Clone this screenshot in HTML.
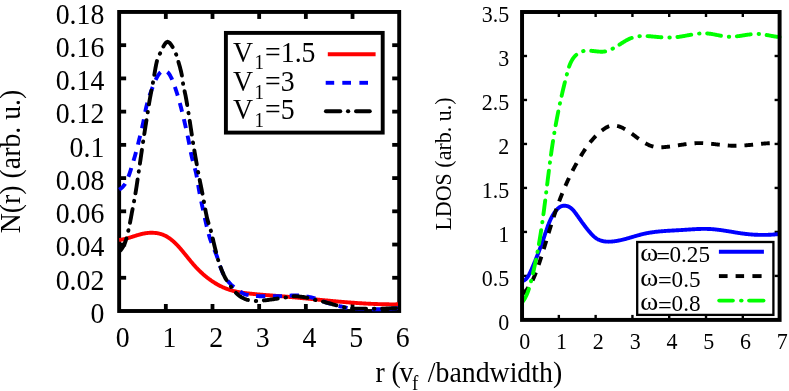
<!DOCTYPE html>
<html lang="en">
<head>
<meta charset="utf-8">
<title>N(r) and LDOS plots</title>
<style>
  html, body { margin: 0; padding: 0; background: #ffffff; }
  body { width: 789px; height: 391px; overflow: hidden; font-family: "Liberation Serif", serif; }
  svg { display: block; will-change: transform; }
  svg text { font-family: "Liberation Serif", serif; fill: #000000; }
</style>
</head>
<body>
<svg width="789" height="391" viewBox="0 0 789 391">
<rect x="0" y="0" width="789" height="391" fill="#ffffff"/>
<g id="left-axes">
<line x1="165.82" y1="311.00" x2="165.82" y2="304.00" stroke="#000" stroke-width="3.80" />
<line x1="165.82" y1="11.95" x2="165.82" y2="18.95" stroke="#000" stroke-width="3.80" />
<line x1="212.50" y1="311.00" x2="212.50" y2="304.00" stroke="#000" stroke-width="3.80" />
<line x1="212.50" y1="11.95" x2="212.50" y2="18.95" stroke="#000" stroke-width="3.80" />
<line x1="259.17" y1="311.00" x2="259.17" y2="304.00" stroke="#000" stroke-width="3.80" />
<line x1="259.17" y1="11.95" x2="259.17" y2="18.95" stroke="#000" stroke-width="3.80" />
<line x1="305.85" y1="311.00" x2="305.85" y2="304.00" stroke="#000" stroke-width="3.80" />
<line x1="305.85" y1="11.95" x2="305.85" y2="18.95" stroke="#000" stroke-width="3.80" />
<line x1="352.52" y1="311.00" x2="352.52" y2="304.00" stroke="#000" stroke-width="3.80" />
<line x1="352.52" y1="11.95" x2="352.52" y2="18.95" stroke="#000" stroke-width="3.80" />
<line x1="119.15" y1="277.77" x2="126.15" y2="277.77" stroke="#000" stroke-width="3.80" />
<line x1="399.20" y1="277.77" x2="392.20" y2="277.77" stroke="#000" stroke-width="3.80" />
<line x1="119.15" y1="244.54" x2="126.15" y2="244.54" stroke="#000" stroke-width="3.80" />
<line x1="399.20" y1="244.54" x2="392.20" y2="244.54" stroke="#000" stroke-width="3.80" />
<line x1="119.15" y1="211.32" x2="126.15" y2="211.32" stroke="#000" stroke-width="3.80" />
<line x1="399.20" y1="211.32" x2="392.20" y2="211.32" stroke="#000" stroke-width="3.80" />
<line x1="119.15" y1="178.09" x2="126.15" y2="178.09" stroke="#000" stroke-width="3.80" />
<line x1="399.20" y1="178.09" x2="392.20" y2="178.09" stroke="#000" stroke-width="3.80" />
<line x1="119.15" y1="144.86" x2="126.15" y2="144.86" stroke="#000" stroke-width="3.80" />
<line x1="399.20" y1="144.86" x2="392.20" y2="144.86" stroke="#000" stroke-width="3.80" />
<line x1="119.15" y1="111.63" x2="126.15" y2="111.63" stroke="#000" stroke-width="3.80" />
<line x1="399.20" y1="111.63" x2="392.20" y2="111.63" stroke="#000" stroke-width="3.80" />
<line x1="119.15" y1="78.41" x2="126.15" y2="78.41" stroke="#000" stroke-width="3.80" />
<line x1="399.20" y1="78.41" x2="392.20" y2="78.41" stroke="#000" stroke-width="3.80" />
<line x1="119.15" y1="45.18" x2="126.15" y2="45.18" stroke="#000" stroke-width="3.80" />
<line x1="399.20" y1="45.18" x2="392.20" y2="45.18" stroke="#000" stroke-width="3.80" />
<rect x="119.15" y="11.95" width="280.05" height="299.05" fill="none" stroke="#000" stroke-width="3.90" stroke-linejoin="miter"/>
</g>
<g id="left-curves" fill="none" stroke-linejoin="round">
<path d="M119.15 239.90L119.63 239.86L120.12 239.81L120.60 239.75L121.09 239.69L121.57 239.61L122.06 239.53L122.54 239.45L123.03 239.36L123.51 239.26L124.00 239.15L124.48 239.04L124.97 238.93L125.45 238.81L125.94 238.69L126.42 238.56L126.91 238.43L127.39 238.29L127.88 238.15L128.37 238.01L128.85 237.86L129.34 237.71L129.83 237.56L130.32 237.41L130.80 237.26L131.29 237.10L131.78 236.94L132.27 236.79L132.76 236.63L133.25 236.47L133.74 236.31L134.23 236.15L134.72 235.99L135.21 235.84L135.71 235.68L136.20 235.53L136.69 235.37L137.19 235.22L137.68 235.07L138.18 234.93L138.67 234.78L139.17 234.64L139.66 234.51L140.16 234.37L140.66 234.24L141.16 234.12L141.66 234.00L142.16 233.88L142.66 233.77L143.16 233.67L143.66 233.57L144.16 233.47L144.67 233.38L145.17 233.30L145.67 233.22L146.18 233.15L146.68 233.09L147.18 233.03L147.69 232.97L148.19 232.93L148.69 232.89L149.20 232.85L149.70 232.82L150.20 232.80L150.70 232.78L151.20 232.78L151.70 232.77L152.20 232.78L152.70 232.79L153.20 232.80L153.69 232.83L154.19 232.86L154.68 232.90L155.17 232.94L155.66 232.99L156.15 233.05L156.63 233.12L157.12 233.19L157.60 233.28L158.08 233.36L158.56 233.46L159.03 233.56L159.51 233.68L159.98 233.79L160.45 233.92L160.91 234.06L161.38 234.20L161.84 234.35L162.30 234.51L162.75 234.67L163.20 234.85L163.65 235.03L164.10 235.22L164.54 235.42L164.98 235.63L165.41 235.85L165.85 236.07L166.28 236.30L166.70 236.54L167.13 236.78L167.55 237.03L167.96 237.29L168.38 237.56L168.79 237.83L169.20 238.11L169.61 238.40L170.01 238.69L170.41 238.98L170.81 239.29L171.20 239.59L171.60 239.91L171.99 240.22L172.37 240.55L172.76 240.88L173.14 241.21L173.52 241.55L173.90 241.89L174.28 242.23L174.65 242.58L175.02 242.94L175.39 243.30L175.76 243.66L176.12 244.02L176.48 244.39L176.84 244.76L177.20 245.13L177.56 245.51L177.91 245.89L178.26 246.27L178.61 246.65L178.96 247.04L179.31 247.42L179.65 247.81L180.00 248.20L180.34 248.59L180.68 248.99L181.01 249.38L181.35 249.78L181.69 250.17L182.02 250.57L182.35 250.96L182.68 251.36L183.01 251.75L183.34 252.15L183.66 252.55L183.99 252.94L184.31 253.34L184.64 253.73L184.96 254.13L185.28 254.52L185.60 254.92L185.92 255.31L186.24 255.71L186.56 256.10L186.88 256.50L187.19 256.89L187.51 257.28L187.83 257.67L188.15 258.06L188.46 258.46L188.78 258.85L189.10 259.24L189.42 259.62L189.74 260.01L190.05 260.40L190.37 260.79L190.69 261.17L191.01 261.56L191.34 261.94L191.66 262.33L191.98 262.71L192.31 263.09L192.63 263.47L192.96 263.85L193.28 264.23L193.61 264.60L193.94 264.98L194.28 265.36L194.61 265.73L194.95 266.10L195.28 266.47L195.62 266.84L195.96 267.21L196.30 267.58L196.65 267.94L197.00 268.31L197.34 268.67L197.69 269.03L198.05 269.39L198.40 269.75L198.76 270.10L199.11 270.46L199.47 270.81L199.84 271.16L200.20 271.51L200.56 271.86L200.93 272.21L201.30 272.55L201.67 272.89L202.04 273.23L202.42 273.57L202.79 273.91L203.17 274.24L203.55 274.58L203.93 274.91L204.32 275.24L204.70 275.56L205.09 275.89L205.48 276.21L205.87 276.53L206.26 276.85L206.66 277.16L207.05 277.48L207.45 277.79L207.85 278.10L208.25 278.40L208.65 278.71L209.06 279.01L209.46 279.31L209.87 279.61L210.28 279.90L210.69 280.19L211.10 280.48L211.52 280.77L211.93 281.05L212.35 281.33L212.77 281.61L213.19 281.89L213.61 282.16L214.04 282.43L214.46 282.70L214.89 282.96L215.32 283.23L215.75 283.49L216.18 283.74L216.62 283.99L217.05 284.25L217.49 284.49L217.93 284.74L218.37 284.98L218.81 285.22L219.25 285.45L219.70 285.68L220.14 285.91L220.59 286.14L221.04 286.36L221.49 286.58L221.95 286.79L222.40 287.01L222.85 287.21L223.31 287.42L223.77 287.62L224.23 287.82L224.69 288.02L225.15 288.21L225.62 288.40L226.08 288.58L226.55 288.76L227.02 288.94L227.49 289.11L227.96 289.28L228.43 289.45L228.91 289.61L229.38 289.77L229.86 289.92L230.34 290.07L230.82 290.22L231.30 290.36L231.78 290.50L232.26 290.64L232.75 290.77L233.23 290.90L233.72 291.02L234.21 291.14L234.70 291.26L235.19 291.37L235.68 291.48L236.18 291.59L236.67 291.69L237.17 291.80L237.66 291.89L238.16 291.99L238.65 292.08L239.15 292.17L239.65 292.26L240.15 292.34L240.65 292.43L241.15 292.51L241.65 292.58L242.16 292.66L242.66 292.73L243.16 292.81L243.66 292.88L244.17 292.94L244.67 293.01L245.18 293.08L245.68 293.14L246.19 293.20L246.69 293.26L247.19 293.32L247.70 293.38L248.20 293.44L248.71 293.49L249.21 293.55L249.72 293.60L250.22 293.66L250.73 293.71L251.23 293.76L251.74 293.81L252.24 293.87L252.75 293.92L253.25 293.97L253.75 294.02L254.26 294.06L254.76 294.11L255.27 294.16L255.77 294.21L256.27 294.25L256.78 294.30L257.28 294.34L257.78 294.39L258.29 294.43L258.79 294.48L259.29 294.52L259.80 294.56L260.30 294.61L260.80 294.65L261.31 294.69L261.81 294.73L262.31 294.77L262.81 294.81L263.32 294.86L263.82 294.90L264.32 294.94L264.82 294.98L265.33 295.02L265.83 295.05L266.33 295.09L266.83 295.13L267.34 295.17L267.84 295.21L268.34 295.25L268.84 295.29L269.34 295.32L269.85 295.36L270.35 295.40L270.85 295.44L271.35 295.48L271.85 295.51L272.36 295.55L272.86 295.59L273.36 295.63L273.86 295.67L274.36 295.70L274.86 295.74L275.37 295.78L275.87 295.82L276.37 295.86L276.87 295.90L277.37 295.94L277.88 295.97L278.38 296.01L278.88 296.05L279.38 296.09L279.88 296.13L280.38 296.17L280.88 296.21L281.39 296.25L281.89 296.29L282.39 296.34L282.89 296.38L283.39 296.42L283.89 296.46L284.40 296.50L284.90 296.54L285.40 296.59L285.90 296.63L286.40 296.67L286.90 296.72L287.41 296.76L287.91 296.80L288.41 296.85L288.91 296.89L289.41 296.94L289.91 296.98L290.42 297.02L290.92 297.07L291.42 297.11L291.92 297.16L292.42 297.20L292.92 297.25L293.42 297.30L293.93 297.34L294.43 297.39L294.93 297.43L295.43 297.48L295.93 297.53L296.43 297.57L296.94 297.62L297.44 297.67L297.94 297.71L298.44 297.76L298.94 297.81L299.44 297.85L299.95 297.90L300.45 297.95L300.95 298.00L301.45 298.04L301.95 298.09L302.45 298.14L302.96 298.19L303.46 298.24L303.96 298.28L304.46 298.33L304.96 298.38L305.46 298.43L305.97 298.48L306.47 298.53L306.97 298.57L307.47 298.62L307.97 298.67L308.47 298.72L308.98 298.77L309.48 298.82L309.98 298.87L310.48 298.92L310.98 298.96L311.48 299.01L311.99 299.06L312.49 299.11L312.99 299.16L313.49 299.21L313.99 299.26L314.50 299.31L315.00 299.36L315.50 299.40L316.00 299.45L316.50 299.50L317.00 299.55L317.51 299.60L318.01 299.65L318.51 299.70L319.01 299.75L319.51 299.79L320.02 299.84L320.52 299.89L321.02 299.94L321.52 299.99L322.02 300.04L322.53 300.09L323.03 300.13L323.53 300.18L324.03 300.23L324.53 300.28L325.03 300.33L325.54 300.37L326.04 300.42L326.54 300.47L327.04 300.52L327.54 300.56L328.05 300.61L328.55 300.66L329.05 300.71L329.55 300.75L330.06 300.80L330.56 300.85L331.06 300.89L331.56 300.94L332.06 300.99L332.57 301.03L333.07 301.08L333.57 301.12L334.07 301.17L334.57 301.22L335.08 301.26L335.58 301.31L336.08 301.35L336.58 301.40L337.09 301.44L337.59 301.48L338.09 301.53L338.59 301.57L339.09 301.62L339.60 301.66L340.10 301.70L340.60 301.75L341.10 301.79L341.61 301.83L342.11 301.88L342.61 301.92L343.11 301.96L343.62 302.00L344.12 302.04L344.62 302.09L345.12 302.13L345.63 302.17L346.13 302.21L346.63 302.25L347.13 302.29L347.64 302.33L348.14 302.37L348.64 302.41L349.14 302.45L349.65 302.49L350.15 302.52L350.65 302.56L351.16 302.60L351.66 302.64L352.16 302.68L352.66 302.71L353.17 302.75L353.67 302.79L354.17 302.82L354.67 302.86L355.18 302.89L355.68 302.93L356.18 302.96L356.69 303.00L357.19 303.03L357.69 303.07L358.19 303.10L358.70 303.13L359.20 303.16L359.70 303.20L360.21 303.23L360.71 303.26L361.21 303.29L361.72 303.32L362.22 303.35L362.72 303.38L363.23 303.41L363.73 303.44L364.23 303.47L364.73 303.50L365.24 303.53L365.74 303.56L366.24 303.58L366.75 303.61L367.25 303.64L367.75 303.66L368.26 303.69L368.76 303.71L369.26 303.74L369.77 303.76L370.27 303.79L370.78 303.81L371.28 303.83L371.78 303.86L372.29 303.88L372.79 303.90L373.29 303.92L373.80 303.94L374.30 303.96L374.80 303.98L375.31 304.00L375.81 304.02L376.31 304.04L376.82 304.05L377.32 304.07L377.83 304.09L378.33 304.10L378.83 304.12L379.34 304.14L379.84 304.15L380.35 304.16L380.85 304.18L381.35 304.19L381.86 304.20L382.36 304.22L382.87 304.23L383.37 304.24L383.87 304.25L384.38 304.26L384.88 304.27L385.39 304.28L385.89 304.28L386.39 304.29L386.90 304.30L387.40 304.31L387.91 304.31L388.41 304.32L388.92 304.32L389.42 304.33L389.93 304.33L390.43 304.33L390.93 304.33L391.44 304.34L391.94 304.34L392.45 304.34L392.95 304.34L393.46 304.34L393.96 304.33L394.47 304.33L394.97 304.33L395.48 304.33L395.98 304.32L396.49 304.32L396.99 304.31L397.50 304.31L398.00 304.30" stroke="#ff0000" stroke-width="3.9"/>
<path d="M119.15 189.60L119.92 189.13L120.67 188.62L121.38 188.09L122.05 187.52L122.68 186.92L123.27 186.29L123.84 185.61L124.38 184.89L124.89 184.15L125.36 183.40L125.80 182.64L126.21 181.86L126.59 181.06L126.95 180.25L127.30 179.43L127.63 178.61L127.97 177.79L128.29 176.96L128.61 176.14L128.92 175.31L129.22 174.47L129.51 173.64L129.80 172.80L130.08 171.96L130.35 171.12L130.62 170.28L130.88 169.43L131.13 168.58L131.38 167.73L131.63 166.88L131.88 166.03L132.13 165.18L132.39 164.34L132.65 163.49L132.91 162.64L133.17 161.80L133.44 160.95L133.70 160.11L133.96 159.26L134.22 158.42L134.47 157.57L134.72 156.72L134.97 155.87L135.20 155.02L135.44 154.16L135.67 153.31L135.90 152.45L136.13 151.60L136.36 150.74L136.58 149.89L136.81 149.03L137.03 148.17L137.25 147.32L137.46 146.46L137.68 145.60L137.90 144.74L138.11 143.88L138.33 143.02L138.54 142.16L138.75 141.30L138.97 140.44L139.18 139.59L139.39 138.73L139.60 137.87L139.82 137.01L140.03 136.15L140.24 135.29L140.45 134.43L140.66 133.57L140.87 132.71L141.08 131.85L141.28 130.99L141.49 130.13L141.69 129.26L141.89 128.40L142.10 127.54L142.29 126.68L142.49 125.81L142.68 124.95L142.88 124.09L143.07 123.22L143.25 122.36L143.43 121.49L143.61 120.62L143.78 119.75L143.94 118.88L144.10 118.01L144.26 117.14L144.42 116.27L144.58 115.39L144.74 114.52L144.90 113.65L145.06 112.78L145.23 111.91L145.40 111.04L145.57 110.17L145.75 109.31L145.94 108.45L146.14 107.59L146.34 106.73L146.55 105.87L146.77 105.02L147.00 104.16L147.23 103.31L147.46 102.45L147.71 101.60L147.95 100.75L148.21 99.90L148.47 99.05L148.73 98.20L149.00 97.35L149.27 96.51L149.55 95.66L149.83 94.82L150.12 93.98L150.41 93.14L150.71 92.31L151.01 91.48L151.31 90.64L151.61 89.82L151.92 88.99L152.24 88.17L152.55 87.34L152.87 86.51L153.19 85.68L153.51 84.84L153.84 84.00L154.18 83.17L154.52 82.34L154.88 81.51L155.24 80.68L155.61 79.87L156.00 79.07L156.40 78.28L156.81 77.50L157.24 76.74L157.69 76.00L158.15 75.27L158.63 74.56L159.17 73.84L159.75 73.12L160.38 72.46L161.05 71.89L161.76 71.45L162.57 71.04L163.44 70.69L164.29 70.51L165.11 70.60L165.93 70.96L166.72 71.50L167.44 72.07L168.06 72.63L168.64 73.30L169.18 74.03L169.68 74.80L170.13 75.57L170.54 76.33L170.95 77.10L171.33 77.88L171.71 78.67L172.07 79.47L172.43 80.28L172.77 81.10L173.10 81.92L173.42 82.76L173.73 83.59L174.04 84.43L174.34 85.28L174.64 86.12L174.93 86.97L175.21 87.82L175.50 88.67L175.78 89.51L176.05 90.36L176.33 91.20L176.61 92.03L176.88 92.87L177.15 93.72L177.41 94.56L177.67 95.41L177.92 96.25L178.17 97.10L178.42 97.95L178.66 98.81L178.91 99.66L179.14 100.51L179.38 101.37L179.61 102.22L179.84 103.08L180.07 103.94L180.29 104.79L180.52 105.65L180.74 106.51L180.96 107.36L181.19 108.22L181.41 109.08L181.62 109.93L181.84 110.79L182.06 111.65L182.27 112.51L182.48 113.37L182.69 114.23L182.90 115.09L183.11 115.95L183.32 116.81L183.52 117.67L183.73 118.53L183.93 119.39L184.14 120.25L184.34 121.12L184.54 121.98L184.74 122.84L184.93 123.71L185.13 124.57L185.33 125.43L185.52 126.30L185.71 127.16L185.91 128.02L186.10 128.89L186.29 129.75L186.48 130.62L186.67 131.48L186.86 132.35L187.05 133.21L187.23 134.08L187.42 134.94L187.60 135.81L187.79 136.68L187.97 137.54L188.15 138.41L188.33 139.27L188.50 140.14L188.67 141.01L188.84 141.88L189.01 142.75L189.17 143.62L189.34 144.49L189.50 145.36L189.67 146.23L189.83 147.10L189.99 147.97L190.16 148.84L190.32 149.71L190.49 150.58L190.66 151.45L190.84 152.32L191.01 153.18L191.19 154.05L191.37 154.92L191.56 155.78L191.75 156.64L191.95 157.50L192.16 158.36L192.38 159.22L192.60 160.08L192.83 160.94L193.06 161.79L193.29 162.65L193.52 163.50L193.76 164.36L194.00 165.21L194.24 166.06L194.47 166.92L194.71 167.77L194.94 168.63L195.16 169.48L195.38 170.34L195.60 171.20L195.80 172.06L196.00 172.92L196.19 173.78L196.37 174.65L196.54 175.51L196.71 176.38L196.87 177.25L197.03 178.12L197.18 178.99L197.33 179.86L197.48 180.74L197.62 181.61L197.77 182.49L197.91 183.36L198.05 184.24L198.19 185.11L198.33 185.99L198.47 186.86L198.62 187.73L198.76 188.61L198.91 189.48L199.06 190.35L199.22 191.22L199.38 192.09L199.54 192.96L199.71 193.83L199.88 194.70L200.05 195.57L200.22 196.44L200.40 197.31L200.57 198.17L200.75 199.04L200.93 199.91L201.11 200.78L201.29 201.64L201.47 202.51L201.65 203.38L201.84 204.24L202.02 205.11L202.21 205.97L202.40 206.84L202.58 207.70L202.77 208.57L202.96 209.43L203.15 210.30L203.35 211.16L203.54 212.02L203.72 212.89L203.91 213.76L204.10 214.62L204.29 215.49L204.48 216.36L204.66 217.22L204.85 218.09L205.04 218.96L205.23 219.83L205.42 220.69L205.61 221.56L205.81 222.43L206.00 223.29L206.20 224.16L206.40 225.02L206.60 225.89L206.80 226.75L207.01 227.61L207.22 228.47L207.43 229.33L207.64 230.19L207.86 231.04L208.09 231.90L208.31 232.75L208.54 233.60L208.78 234.45L209.02 235.30L209.26 236.15L209.51 236.99L209.76 237.83L210.03 238.67L210.31 239.51L210.60 240.34L210.89 241.17L211.20 242.00L211.51 242.83L211.83 243.65L212.16 244.48L212.49 245.30L212.83 246.12L213.16 246.94L213.50 247.76L213.84 248.58L214.19 249.40L214.53 250.22L214.86 251.04L215.20 251.86L215.53 252.69L215.86 253.51L216.18 254.34L216.50 255.16L216.81 255.99L217.11 256.83L217.40 257.67L217.68 258.51L217.96 259.36L218.24 260.22L218.51 261.07L218.78 261.92L219.05 262.78L219.32 263.63L219.59 264.49L219.86 265.34L220.14 266.18L220.43 267.03L220.72 267.86L221.02 268.70L221.33 269.52L221.65 270.34L221.98 271.14L222.32 271.94L222.68 272.73L223.05 273.51L223.45 274.27L223.86 275.04L224.30 275.81L224.76 276.57L225.24 277.33L225.74 278.08L226.25 278.82L226.78 279.56L227.32 280.28L227.87 280.99L228.44 281.68L229.02 282.36L229.60 283.03L230.19 283.67L230.79 284.29L231.41 284.89L232.05 285.48L232.72 286.05L233.41 286.60L234.12 287.14L234.84 287.68L235.57 288.20L236.31 288.71L237.05 289.22L237.79 289.72L238.52 290.21L239.25 290.73L239.98 291.26L240.71 291.81L241.45 292.34L242.20 292.86L242.96 293.33L243.73 293.76L244.52 294.11L245.32 294.38L246.14 294.58L246.99 294.76L247.85 294.92L248.73 295.07L249.62 295.20L250.51 295.32L251.41 295.42L252.30 295.52L253.18 295.62L254.06 295.72L254.94 295.82L255.82 295.91L256.70 296.00L257.59 296.09L258.47 296.16L259.35 296.22L260.24 296.27L261.12 296.29L262.01 296.30L262.89 296.30L263.77 296.30L264.66 296.30L265.54 296.29L266.43 296.29L267.31 296.29L268.20 296.28L269.08 296.28L269.97 296.27L270.86 296.27L271.74 296.26L272.63 296.25L273.51 296.25L274.40 296.24L275.28 296.23L276.17 296.22L277.05 296.21L277.94 296.21L278.82 296.20L279.71 296.18L280.59 296.15L281.48 296.12L282.36 296.08L283.25 296.04L284.14 295.99L285.02 295.93L285.91 295.88L286.79 295.82L287.68 295.77L288.56 295.71L289.45 295.66L290.33 295.60L291.22 295.56L292.10 295.51L292.98 295.47L293.86 295.44L294.75 295.42L295.63 295.41L296.51 295.40L297.39 295.41L298.27 295.44L299.16 295.49L300.04 295.56L300.93 295.65L301.81 295.75L302.69 295.86L303.58 295.98L304.46 296.12L305.34 296.26L306.22 296.42L307.09 296.58L307.97 296.74L308.83 296.91L309.70 297.08L310.56 297.25L311.42 297.42L312.27 297.62L313.12 297.85L313.96 298.10L314.79 298.38L315.63 298.68L316.46 299.00L317.29 299.32L318.12 299.65L318.95 299.99L319.78 300.31L320.61 300.63L321.44 300.94L322.28 301.23L323.12 301.50L323.97 301.76L324.81 302.02L325.66 302.28L326.51 302.54L327.36 302.79L328.21 303.04L329.06 303.28L329.91 303.52L330.76 303.77L331.61 304.00L332.47 304.24L333.32 304.47L334.18 304.70L335.03 304.93L335.89 305.16L336.74 305.39L337.60 305.61L338.46 305.84L339.31 306.06L340.17 306.29L341.03 306.51L341.89 306.72L342.75 306.92L343.61 307.12L344.48 307.30L345.35 307.47L346.21 307.64L347.08 307.81L347.96 307.99L348.83 308.16L349.71 308.31L350.58 308.46L351.46 308.58L352.34 308.69L353.22 308.76L354.09 308.80L354.97 308.83L355.85 308.86L356.74 308.89L357.62 308.91L358.50 308.94L359.38 308.96L360.27 308.98L361.15 309.00L362.04 309.02L362.92 309.04L363.81 309.06L364.69 309.07L365.58 309.09L366.47 309.10L367.35 309.12L368.24 309.13L369.13 309.14L370.02 309.15L370.90 309.16L371.79 309.17L372.68 309.18L373.56 309.18L374.45 309.19L375.34 309.19L376.22 309.20L377.11 309.20L377.99 309.20L378.88 309.20L379.76 309.20L380.65 309.19L381.53 309.17L382.41 309.15L383.30 309.12L384.18 309.09L385.07 309.05L385.95 309.01L386.83 308.97L387.72 308.92L388.60 308.86L389.48 308.80L390.37 308.74L391.25 308.68L392.13 308.61L393.02 308.54L393.90 308.47L394.78 308.40L395.67 308.32L396.55 308.24L397.43 308.16L398.32 308.08L399.20 308.00" stroke="#0000ff" stroke-width="3.9" stroke-dasharray="9.2 7.6" stroke-dashoffset="0.65"/>
<path d="M119.15 251.80L119.93 251.04L120.65 250.24L121.30 249.39L121.93 248.50L122.54 247.59L123.12 246.66L123.65 245.70L124.14 244.74L124.57 243.77L124.96 242.78L125.33 241.79L125.67 240.77L126.00 239.75L126.30 238.71L126.60 237.66L126.88 236.61L127.15 235.55L127.41 234.48L127.67 233.42L127.92 232.36L128.17 231.30L128.41 230.25L128.65 229.20L128.89 228.15L129.12 227.09L129.34 226.03L129.56 224.98L129.78 223.92L129.98 222.85L130.19 221.79L130.39 220.73L130.59 219.67L130.79 218.60L130.99 217.54L131.18 216.47L131.38 215.41L131.58 214.35L131.77 213.28L131.97 212.22L132.17 211.16L132.37 210.09L132.58 209.03L132.78 207.97L132.98 206.91L133.18 205.84L133.38 204.78L133.59 203.72L133.79 202.66L133.99 201.59L134.18 200.53L134.38 199.47L134.57 198.40L134.76 197.34L134.95 196.28L135.14 195.21L135.32 194.15L135.50 193.08L135.68 192.01L135.85 190.95L136.03 189.88L136.19 188.81L136.36 187.75L136.52 186.68L136.69 185.61L136.85 184.54L137.01 183.47L137.17 182.40L137.32 181.33L137.48 180.26L137.63 179.19L137.79 178.12L137.95 177.05L138.10 175.98L138.26 174.91L138.41 173.84L138.57 172.77L138.73 171.70L138.88 170.63L139.04 169.56L139.20 168.49L139.36 167.42L139.51 166.35L139.67 165.28L139.82 164.21L139.98 163.14L140.13 162.07L140.29 161.00L140.44 159.93L140.60 158.86L140.75 157.79L140.91 156.72L141.06 155.65L141.22 154.58L141.37 153.51L141.53 152.44L141.68 151.37L141.84 150.30L142.00 149.23L142.15 148.16L142.31 147.09L142.47 146.02L142.63 144.96L142.79 143.89L142.95 142.82L143.11 141.75L143.27 140.68L143.43 139.61L143.60 138.54L143.76 137.47L143.92 136.40L144.09 135.34L144.26 134.27L144.42 133.20L144.59 132.13L144.76 131.06L144.92 130.00L145.09 128.93L145.26 127.86L145.43 126.79L145.59 125.72L145.76 124.66L145.93 123.59L146.10 122.52L146.27 121.45L146.44 120.38L146.61 119.32L146.78 118.25L146.95 117.18L147.11 116.11L147.28 115.04L147.45 113.98L147.62 112.91L147.79 111.84L147.95 110.77L148.12 109.70L148.28 108.64L148.45 107.57L148.61 106.50L148.78 105.43L148.95 104.36L149.12 103.29L149.29 102.23L149.47 101.16L149.66 100.10L149.84 99.03L150.03 97.97L150.23 96.90L150.43 95.84L150.63 94.78L150.83 93.72L151.03 92.66L151.24 91.59L151.44 90.53L151.65 89.47L151.85 88.41L152.05 87.35L152.26 86.28L152.46 85.22L152.65 84.16L152.85 83.10L153.04 82.03L153.22 80.97L153.41 79.90L153.59 78.83L153.77 77.77L153.96 76.70L154.15 75.64L154.34 74.58L154.54 73.51L154.72 72.44L154.91 71.37L155.09 70.30L155.28 69.23L155.47 68.15L155.66 67.08L155.87 66.02L156.08 64.95L156.30 63.89L156.53 62.84L156.78 61.80L157.05 60.76L157.33 59.73L157.65 58.72L158.02 57.70L158.44 56.70L158.90 55.71L159.37 54.73L159.86 53.76L160.36 52.79L160.87 51.73L161.42 50.59L161.98 49.39L162.57 48.19L163.16 47.00L163.77 45.86L164.39 44.79L165.01 43.84L165.64 43.04L166.26 42.41L166.88 41.99L167.49 41.80L168.10 41.88L168.74 42.19L169.41 42.71L170.08 43.41L170.77 44.26L171.45 45.23L172.12 46.29L172.78 47.42L173.42 48.60L174.02 49.78L174.59 50.95L175.12 52.08L175.59 53.13L176.01 54.11L176.39 55.11L176.74 56.13L177.07 57.17L177.38 58.22L177.68 59.27L177.97 60.31L178.28 61.35L178.58 62.39L178.88 63.43L179.18 64.47L179.48 65.51L179.77 66.55L180.05 67.60L180.33 68.65L180.60 69.69L180.86 70.74L181.11 71.80L181.35 72.85L181.57 73.91L181.78 74.96L181.97 76.02L182.14 77.09L182.30 78.16L182.44 79.23L182.58 80.31L182.73 81.38L182.88 82.45L183.05 83.52L183.24 84.58L183.44 85.64L183.65 86.70L183.86 87.76L184.09 88.82L184.31 89.88L184.54 90.93L184.77 91.99L185.00 93.05L185.23 94.11L185.45 95.17L185.66 96.23L185.87 97.29L186.06 98.35L186.25 99.41L186.44 100.48L186.63 101.54L186.81 102.61L186.99 103.67L187.16 104.74L187.34 105.81L187.51 106.88L187.69 107.94L187.86 109.01L188.03 110.08L188.20 111.15L188.37 112.21L188.54 113.28L188.71 114.35L188.88 115.42L189.04 116.48L189.21 117.55L189.37 118.62L189.54 119.69L189.70 120.76L189.86 121.83L190.02 122.90L190.18 123.97L190.34 125.04L190.50 126.10L190.66 127.17L190.83 128.24L190.99 129.31L191.15 130.38L191.31 131.45L191.47 132.52L191.63 133.59L191.80 134.66L191.96 135.73L192.12 136.79L192.29 137.86L192.46 138.93L192.63 140.00L192.80 141.07L192.97 142.13L193.15 143.20L193.32 144.27L193.50 145.33L193.67 146.40L193.85 147.47L194.03 148.53L194.21 149.60L194.39 150.66L194.57 151.73L194.75 152.80L194.93 153.86L195.11 154.93L195.30 155.99L195.48 157.06L195.66 158.12L195.85 159.19L196.04 160.25L196.22 161.32L196.41 162.38L196.60 163.45L196.79 164.51L196.98 165.58L197.17 166.64L197.37 167.70L197.56 168.77L197.76 169.83L197.95 170.89L198.15 171.96L198.35 173.02L198.55 174.08L198.75 175.14L198.96 176.21L199.16 177.27L199.37 178.33L199.58 179.39L199.79 180.45L200.00 181.51L200.22 182.57L200.43 183.63L200.64 184.69L200.86 185.75L201.07 186.81L201.29 187.87L201.50 188.93L201.71 189.99L201.92 191.05L202.13 192.11L202.34 193.17L202.55 194.23L202.76 195.29L202.96 196.35L203.16 197.42L203.35 198.48L203.54 199.55L203.73 200.61L203.92 201.68L204.11 202.75L204.29 203.81L204.48 204.88L204.67 205.95L204.86 207.01L205.05 208.08L205.25 209.14L205.44 210.20L205.65 211.27L205.85 212.33L206.07 213.39L206.28 214.44L206.51 215.50L206.74 216.55L206.98 217.60L207.23 218.65L207.50 219.69L207.79 220.73L208.10 221.77L208.42 222.80L208.74 223.83L209.07 224.87L209.40 225.90L209.73 226.93L210.05 227.96L210.36 229.00L210.66 230.04L210.95 231.08L211.22 232.13L211.49 233.17L211.75 234.22L212.00 235.27L212.26 236.32L212.50 237.38L212.75 238.43L212.99 239.48L213.23 240.54L213.48 241.59L213.72 242.64L213.96 243.70L214.21 244.75L214.46 245.80L214.72 246.85L214.98 247.90L215.24 248.95L215.50 250.00L215.76 251.05L216.02 252.10L216.28 253.15L216.55 254.20L216.82 255.25L217.10 256.29L217.38 257.34L217.67 258.38L217.97 259.41L218.29 260.45L218.61 261.48L218.94 262.51L219.28 263.54L219.64 264.56L220.00 265.58L220.37 266.59L220.75 267.60L221.14 268.61L221.54 269.62L221.95 270.62L222.36 271.63L222.78 272.63L223.22 273.62L223.67 274.61L224.12 275.59L224.60 276.56L225.08 277.52L225.58 278.47L226.10 279.41L226.64 280.34L227.22 281.26L227.81 282.16L228.42 283.06L229.04 283.95L229.67 284.84L230.30 285.72L230.94 286.59L231.57 287.47L232.21 288.36L232.86 289.24L233.52 290.11L234.20 290.96L234.90 291.77L235.64 292.54L236.40 293.27L237.20 294.00L238.02 294.72L238.88 295.43L239.76 296.10L240.65 296.74L241.57 297.33L242.51 297.86L243.45 298.33L244.42 298.75L245.42 299.15L246.45 299.52L247.50 299.85L248.56 300.12L249.62 300.34L250.68 300.50L251.75 300.64L252.82 300.77L253.90 300.88L254.99 300.96L256.07 301.00L257.15 300.99L258.23 300.94L259.30 300.87L260.38 300.77L261.46 300.67L262.54 300.55L263.62 300.44L264.69 300.33L265.76 300.21L266.84 300.09L267.91 299.95L268.98 299.81L270.05 299.67L271.12 299.51L272.20 299.36L273.27 299.21L274.34 299.05L275.41 298.90L276.48 298.74L277.55 298.60L278.62 298.45L279.69 298.30L280.76 298.14L281.83 297.99L282.90 297.83L283.97 297.68L285.04 297.52L286.11 297.35L287.17 297.15L288.24 296.93L289.30 296.70L290.37 296.49L291.44 296.32L292.51 296.22L293.58 296.20L294.66 296.23L295.74 296.27L296.82 296.34L297.90 296.42L298.98 296.51L300.06 296.60L301.13 296.72L302.20 296.87L303.27 297.04L304.33 297.24L305.40 297.45L306.46 297.67L307.52 297.90L308.57 298.13L309.62 298.39L310.66 298.67L311.70 298.97L312.74 299.28L313.78 299.58L314.82 299.86L315.87 300.11L316.93 300.35L317.99 300.57L319.05 300.79L320.10 301.01L321.16 301.23L322.22 301.46L323.27 301.71L324.32 301.97L325.36 302.24L326.41 302.52L327.45 302.81L328.49 303.10L329.53 303.39L330.57 303.69L331.61 303.98L332.66 304.28L333.70 304.57L334.74 304.86L335.78 305.14L336.83 305.41L337.88 305.68L338.92 305.96L339.97 306.24L341.02 306.52L342.07 306.78L343.12 307.02L344.18 307.25L345.24 307.44L346.30 307.63L347.37 307.82L348.44 308.01L349.51 308.19L350.58 308.34L351.66 308.47L352.73 308.55L353.81 308.60L354.89 308.61L355.96 308.62L357.04 308.63L358.12 308.63L359.20 308.64L360.28 308.65L361.36 308.65L362.44 308.66L363.52 308.67L364.60 308.67L365.69 308.68L366.77 308.68L367.85 308.68L368.93 308.69L370.02 308.69L371.10 308.69L372.18 308.69L373.27 308.70L374.35 308.70L375.43 308.70L376.51 308.70L377.59 308.70L378.67 308.70L379.76 308.70L380.84 308.69L381.92 308.67L383.00 308.65L384.08 308.63L385.16 308.60L386.24 308.56L387.32 308.52L388.40 308.48L389.48 308.43L390.56 308.38L391.64 308.32L392.72 308.27L393.80 308.21L394.88 308.15L395.96 308.09L397.04 308.03L398.12 307.96L399.20 307.90" stroke="#000" stroke-width="3.9" stroke-dasharray="14 7.9 0.5 7.6" stroke-dashoffset="28.59" stroke-linecap="round"/>
</g>
<g id="left-labels">
<text transform="translate(104.30 322.85) scale(1.000 1.055)" font-size="27.80" text-anchor="end" >0</text>
<text transform="translate(104.30 289.62) scale(1.000 1.055)" font-size="27.80" text-anchor="end" >0.02</text>
<text transform="translate(104.30 256.39) scale(1.000 1.055)" font-size="27.80" text-anchor="end" >0.04</text>
<text transform="translate(104.30 223.17) scale(1.000 1.055)" font-size="27.80" text-anchor="end" >0.06</text>
<text transform="translate(104.30 189.94) scale(1.000 1.055)" font-size="27.80" text-anchor="end" >0.08</text>
<text transform="translate(104.30 156.71) scale(1.000 1.055)" font-size="27.80" text-anchor="end" >0.1</text>
<text transform="translate(104.30 123.48) scale(1.000 1.055)" font-size="27.80" text-anchor="end" >0.12</text>
<text transform="translate(104.30 90.26) scale(1.000 1.055)" font-size="27.80" text-anchor="end" >0.14</text>
<text transform="translate(104.30 57.03) scale(1.000 1.055)" font-size="27.80" text-anchor="end" >0.16</text>
<text transform="translate(104.30 23.80) scale(1.000 1.055)" font-size="27.80" text-anchor="end" >0.18</text>
<text transform="translate(122.75 347.30) scale(1.000 1.055)" font-size="27.80" text-anchor="middle" >0</text>
<text transform="translate(169.42 347.30) scale(1.000 1.055)" font-size="27.80" text-anchor="middle" >1</text>
<text transform="translate(216.10 347.30) scale(1.000 1.055)" font-size="27.80" text-anchor="middle" >2</text>
<text transform="translate(262.77 347.30) scale(1.000 1.055)" font-size="27.80" text-anchor="middle" >3</text>
<text transform="translate(309.45 347.30) scale(1.000 1.055)" font-size="27.80" text-anchor="middle" >4</text>
<text transform="translate(356.12 347.30) scale(1.000 1.055)" font-size="27.80" text-anchor="middle" >5</text>
<text transform="translate(402.80 347.30) scale(1.000 1.055)" font-size="27.80" text-anchor="middle" >6</text>
<text transform="translate(20.40 233.20) rotate(-90) scale(1.000 1.055)" font-size="27.80" text-anchor="start" >N(r) (arb. u.)</text>
</g>
<g id="left-legend">
<rect x="225.90" y="32.90" width="156.80" height="99.70" fill="none" stroke="#000" stroke-width="3.90" stroke-linejoin="miter"/>
<text transform="translate(233.10 61.60) scale(1.000 1.055)" font-size="27.80" text-anchor="start" >V</text>
<text transform="translate(254.50 69.45) scale(1.000 1.055)" font-size="19.00" text-anchor="start" >1</text>
<text transform="translate(265.10 61.60) scale(1.000 1.055)" font-size="27.80" text-anchor="start" >=1.5</text>
<text transform="translate(233.10 90.80) scale(1.000 1.055)" font-size="27.80" text-anchor="start" >V</text>
<text transform="translate(254.50 98.65) scale(1.000 1.055)" font-size="19.00" text-anchor="start" >1</text>
<text transform="translate(265.10 90.80) scale(1.000 1.055)" font-size="27.80" text-anchor="start" >=3</text>
<text transform="translate(233.10 119.30) scale(1.000 1.055)" font-size="27.80" text-anchor="start" >V</text>
<text transform="translate(254.50 127.15) scale(1.000 1.055)" font-size="19.00" text-anchor="start" >1</text>
<text transform="translate(265.10 119.30) scale(1.000 1.055)" font-size="27.80" text-anchor="start" >=5</text>
<line x1="327.80" y1="54.20" x2="375.60" y2="54.20" stroke="#ff0000" stroke-width="3.90" />
<line x1="325.70" y1="82.80" x2="334.20" y2="82.80" stroke="#0000ff" stroke-width="3.90" />
<line x1="342.30" y1="82.80" x2="351.00" y2="82.80" stroke="#0000ff" stroke-width="3.90" />
<line x1="359.40" y1="82.80" x2="368.00" y2="82.80" stroke="#0000ff" stroke-width="3.90" />
<line x1="325.90" y1="111.30" x2="340.30" y2="111.30" stroke="#000" stroke-width="3.90" stroke-linecap="round"/>
<line x1="347.90" y1="111.30" x2="348.30" y2="111.30" stroke="#000" stroke-width="3.90" stroke-linecap="round"/>
<line x1="356.00" y1="111.30" x2="369.80" y2="111.30" stroke="#000" stroke-width="3.90" stroke-linecap="round"/>
</g>
<text transform="translate(375.40 382.40) scale(1.000 1.055)" font-size="27.80" text-anchor="start" >r (</text>
<text transform="translate(399.60 382.40) scale(1.000 1.055)" font-size="27.80" text-anchor="start" >v</text>
<text transform="translate(412.00 390.30) scale(1.000 1.055)" font-size="19.00" text-anchor="start" >f</text>
<text transform="translate(427.85 382.40) scale(1.000 1.055)" font-size="27.80" text-anchor="start" >/bandwidth)</text>
<g id="right-axes">
<line x1="558.84" y1="319.90" x2="558.84" y2="314.90" stroke="#000" stroke-width="2.40" />
<line x1="558.84" y1="12.00" x2="558.84" y2="17.00" stroke="#000" stroke-width="2.40" />
<line x1="595.64" y1="319.90" x2="595.64" y2="314.90" stroke="#000" stroke-width="2.40" />
<line x1="595.64" y1="12.00" x2="595.64" y2="17.00" stroke="#000" stroke-width="2.40" />
<line x1="632.43" y1="319.90" x2="632.43" y2="314.90" stroke="#000" stroke-width="2.40" />
<line x1="632.43" y1="12.00" x2="632.43" y2="17.00" stroke="#000" stroke-width="2.40" />
<line x1="669.22" y1="319.90" x2="669.22" y2="314.90" stroke="#000" stroke-width="2.40" />
<line x1="669.22" y1="12.00" x2="669.22" y2="17.00" stroke="#000" stroke-width="2.40" />
<line x1="706.01" y1="319.90" x2="706.01" y2="314.90" stroke="#000" stroke-width="2.40" />
<line x1="706.01" y1="12.00" x2="706.01" y2="17.00" stroke="#000" stroke-width="2.40" />
<line x1="742.81" y1="319.90" x2="742.81" y2="314.90" stroke="#000" stroke-width="2.40" />
<line x1="742.81" y1="12.00" x2="742.81" y2="17.00" stroke="#000" stroke-width="2.40" />
<line x1="522.05" y1="275.91" x2="527.05" y2="275.91" stroke="#000" stroke-width="2.40" />
<line x1="779.60" y1="275.91" x2="774.60" y2="275.91" stroke="#000" stroke-width="2.40" />
<line x1="522.05" y1="231.93" x2="527.05" y2="231.93" stroke="#000" stroke-width="2.40" />
<line x1="779.60" y1="231.93" x2="774.60" y2="231.93" stroke="#000" stroke-width="2.40" />
<line x1="522.05" y1="187.94" x2="527.05" y2="187.94" stroke="#000" stroke-width="2.40" />
<line x1="779.60" y1="187.94" x2="774.60" y2="187.94" stroke="#000" stroke-width="2.40" />
<line x1="522.05" y1="143.96" x2="527.05" y2="143.96" stroke="#000" stroke-width="2.40" />
<line x1="779.60" y1="143.96" x2="774.60" y2="143.96" stroke="#000" stroke-width="2.40" />
<line x1="522.05" y1="99.97" x2="527.05" y2="99.97" stroke="#000" stroke-width="2.40" />
<line x1="779.60" y1="99.97" x2="774.60" y2="99.97" stroke="#000" stroke-width="2.40" />
<line x1="522.05" y1="55.99" x2="527.05" y2="55.99" stroke="#000" stroke-width="2.40" />
<line x1="779.60" y1="55.99" x2="774.60" y2="55.99" stroke="#000" stroke-width="2.40" />
</g>
<g id="right-curves" fill="none" stroke-linejoin="round">
<path d="M522.05 281.20L522.60 281.03L523.12 280.83L523.62 280.61L524.09 280.36L524.54 280.09L524.97 279.79L525.38 279.48L525.78 279.14L526.15 278.78L526.51 278.41L526.85 278.02L527.18 277.61L527.49 277.19L527.79 276.76L528.08 276.32L528.36 275.86L528.63 275.40L528.89 274.92L529.14 274.44L529.39 273.96L529.63 273.47L529.87 272.97L530.10 272.48L530.33 271.98L530.56 271.48L530.79 270.99L531.02 270.49L531.24 269.99L531.47 269.50L531.69 269.00L531.91 268.51L532.14 268.01L532.36 267.51L532.57 267.02L532.79 266.52L533.01 266.02L533.22 265.53L533.44 265.03L533.65 264.54L533.86 264.04L534.07 263.54L534.28 263.05L534.49 262.55L534.70 262.05L534.91 261.56L535.11 261.06L535.32 260.56L535.52 260.07L535.72 259.57L535.92 259.07L536.12 258.58L536.32 258.08L536.52 257.58L536.72 257.08L536.92 256.59L537.11 256.09L537.31 255.59L537.50 255.09L537.70 254.60L537.89 254.10L538.08 253.60L538.28 253.10L538.47 252.60L538.66 252.10L538.85 251.60L539.03 251.10L539.22 250.60L539.41 250.10L539.60 249.60L539.78 249.10L539.97 248.60L540.15 248.10L540.34 247.60L540.52 247.10L540.70 246.60L540.88 246.10L541.07 245.60L541.25 245.09L541.43 244.59L541.61 244.09L541.79 243.58L541.97 243.08L542.15 242.58L542.32 242.07L542.50 241.57L542.68 241.06L542.86 240.56L543.03 240.05L543.21 239.55L543.39 239.04L543.56 238.53L543.74 238.03L543.91 237.52L544.09 237.01L544.26 236.50L544.44 235.99L544.61 235.48L544.79 234.97L544.96 234.46L545.13 233.95L545.31 233.44L545.48 232.93L545.65 232.42L545.83 231.91L546.00 231.39L546.17 230.88L546.35 230.37L546.52 229.85L546.70 229.34L546.87 228.83L547.05 228.31L547.23 227.80L547.41 227.29L547.59 226.78L547.77 226.27L547.96 225.76L548.15 225.25L548.34 224.74L548.53 224.23L548.73 223.73L548.92 223.22L549.13 222.72L549.33 222.22L549.54 221.72L549.75 221.22L549.97 220.73L550.19 220.23L550.42 219.74L550.64 219.25L550.88 218.76L551.12 218.28L551.36 217.80L551.61 217.32L551.87 216.84L552.13 216.37L552.39 215.90L552.66 215.43L552.94 214.96L553.23 214.50L553.52 214.04L553.81 213.59L554.12 213.14L554.43 212.69L554.75 212.25L555.08 211.81L555.41 211.37L555.75 210.94L556.10 210.52L556.46 210.09L556.82 209.68L557.20 209.27L557.58 208.88L557.97 208.50L558.38 208.13L558.79 207.78L559.21 207.46L559.63 207.15L560.07 206.87L560.52 206.62L560.98 206.39L561.45 206.20L561.93 206.03L562.41 205.90L562.91 205.80L563.40 205.73L563.91 205.69L564.41 205.68L564.92 205.70L565.43 205.74L565.94 205.81L566.45 205.91L566.95 206.04L567.45 206.19L567.94 206.36L568.43 206.56L568.91 206.79L569.38 207.04L569.84 207.31L570.29 207.60L570.73 207.91L571.16 208.25L571.57 208.60L571.98 208.97L572.38 209.35L572.77 209.75L573.15 210.16L573.52 210.58L573.89 211.01L574.25 211.45L574.60 211.90L574.95 212.35L575.29 212.81L575.63 213.26L575.97 213.72L576.30 214.18L576.63 214.64L576.95 215.09L577.27 215.54L577.59 215.99L577.91 216.44L578.23 216.88L578.54 217.33L578.85 217.77L579.16 218.20L579.47 218.64L579.78 219.08L580.09 219.51L580.40 219.94L580.70 220.37L581.01 220.80L581.31 221.23L581.62 221.65L581.92 222.08L582.23 222.50L582.53 222.93L582.84 223.35L583.15 223.77L583.46 224.19L583.77 224.61L584.08 225.03L584.39 225.45L584.71 225.87L585.02 226.28L585.34 226.70L585.66 227.12L585.98 227.54L586.31 227.95L586.64 228.37L586.97 228.79L587.30 229.21L587.64 229.62L587.98 230.04L588.33 230.46L588.68 230.88L589.03 231.30L589.39 231.72L589.75 232.14L590.12 232.56L590.49 232.99L590.86 233.41L591.24 233.83L591.63 234.24L592.02 234.66L592.42 235.06L592.82 235.46L593.22 235.86L593.63 236.24L594.05 236.62L594.47 236.98L594.90 237.33L595.33 237.67L595.77 238.00L596.22 238.31L596.67 238.61L597.12 238.89L597.58 239.15L598.05 239.40L598.52 239.63L599.00 239.85L599.48 240.06L599.96 240.25L600.45 240.43L600.95 240.59L601.45 240.74L601.95 240.88L602.45 241.01L602.96 241.12L603.47 241.22L603.99 241.32L604.50 241.40L605.02 241.47L605.55 241.52L606.07 241.57L606.60 241.61L607.13 241.64L607.66 241.66L608.19 241.67L608.72 241.68L609.26 241.67L609.79 241.66L610.33 241.64L610.86 241.61L611.40 241.58L611.94 241.54L612.47 241.49L613.01 241.43L613.55 241.38L614.08 241.31L614.62 241.24L615.15 241.17L615.68 241.09L616.22 241.00L616.75 240.92L617.28 240.83L617.81 240.73L618.34 240.63L618.87 240.53L619.39 240.42L619.92 240.31L620.45 240.19L620.97 240.08L621.50 239.96L622.02 239.83L622.55 239.71L623.07 239.58L623.59 239.45L624.12 239.31L624.64 239.18L625.16 239.04L625.68 238.90L626.20 238.76L626.72 238.61L627.24 238.47L627.76 238.32L628.28 238.17L628.80 238.02L629.32 237.87L629.84 237.72L630.36 237.57L630.87 237.42L631.39 237.27L631.91 237.11L632.43 236.96L632.95 236.81L633.46 236.66L633.98 236.50L634.50 236.35L635.02 236.20L635.54 236.05L636.05 235.90L636.57 235.75L637.09 235.60L637.61 235.45L638.13 235.31L638.65 235.17L639.17 235.02L639.69 234.88L640.20 234.74L640.72 234.61L641.25 234.47L641.77 234.34L642.29 234.21L642.81 234.09L643.33 233.96L643.85 233.84L644.38 233.72L644.90 233.61L645.42 233.50L645.95 233.39L646.47 233.28L647.00 233.18L647.52 233.08L648.05 232.98L648.57 232.89L649.10 232.79L649.63 232.70L650.16 232.62L650.68 232.53L651.21 232.45L651.74 232.37L652.27 232.29L652.80 232.22L653.33 232.14L653.86 232.07L654.39 232.01L654.92 231.94L655.45 231.87L655.99 231.81L656.52 231.75L657.05 231.69L657.58 231.63L658.12 231.58L658.65 231.52L659.18 231.47L659.72 231.42L660.25 231.37L660.78 231.32L661.32 231.28L661.85 231.23L662.39 231.19L662.92 231.15L663.46 231.11L664.00 231.07L664.53 231.03L665.07 230.99L665.60 230.95L666.14 230.92L666.68 230.88L667.21 230.85L667.75 230.81L668.29 230.78L668.82 230.75L669.36 230.71L669.90 230.68L670.44 230.65L670.97 230.62L671.51 230.59L672.05 230.56L672.59 230.53L673.13 230.50L673.66 230.47L674.20 230.44L674.74 230.41L675.28 230.38L675.82 230.35L676.36 230.32L676.90 230.30L677.43 230.27L677.97 230.24L678.51 230.20L679.05 230.17L679.59 230.14L680.13 230.11L680.66 230.08L681.20 230.04L681.74 230.01L682.28 229.98L682.82 229.94L683.36 229.91L683.89 229.87L684.43 229.83L684.97 229.80L685.51 229.76L686.05 229.72L686.59 229.69L687.12 229.65L687.66 229.62L688.20 229.58L688.74 229.54L689.27 229.51L689.81 229.47L690.35 229.44L690.89 229.40L691.42 229.37L691.96 229.33L692.50 229.30L693.04 229.27L693.57 229.24L694.11 229.21L694.65 229.18L695.18 229.15L695.72 229.12L696.26 229.10L696.79 229.07L697.33 229.05L697.87 229.03L698.40 229.00L698.94 228.99L699.48 228.97L700.01 228.95L700.55 228.94L701.08 228.92L701.62 228.91L702.16 228.90L702.69 228.90L703.23 228.89L703.76 228.89L704.30 228.89L704.83 228.89L705.37 228.89L705.90 228.90L706.44 228.90L706.97 228.91L707.51 228.93L708.04 228.94L708.58 228.96L709.11 228.98L709.64 229.01L710.18 229.03L710.71 229.06L711.25 229.09L711.78 229.13L712.31 229.17L712.85 229.21L713.38 229.25L713.91 229.30L714.44 229.35L714.98 229.40L715.51 229.45L716.04 229.51L716.58 229.57L717.11 229.63L717.64 229.69L718.17 229.75L718.70 229.82L719.24 229.88L719.77 229.95L720.30 230.03L720.83 230.10L721.36 230.17L721.90 230.25L722.43 230.33L722.96 230.40L723.49 230.48L724.02 230.56L724.56 230.65L725.09 230.73L725.62 230.81L726.15 230.90L726.68 230.98L727.21 231.07L727.74 231.16L728.28 231.24L728.81 231.33L729.34 231.42L729.87 231.51L730.40 231.60L730.93 231.69L731.47 231.77L732.00 231.86L732.53 231.95L733.06 232.04L733.59 232.13L734.12 232.22L734.65 232.31L735.19 232.39L735.72 232.48L736.25 232.57L736.78 232.65L737.31 232.74L737.85 232.82L738.38 232.91L738.91 232.99L739.44 233.07L739.97 233.15L740.51 233.23L741.04 233.31L741.57 233.39L742.10 233.46L742.64 233.53L743.17 233.61L743.70 233.68L744.24 233.75L744.77 233.81L745.30 233.88L745.84 233.94L746.37 234.00L746.90 234.06L747.44 234.12L747.97 234.18L748.51 234.23L749.04 234.28L749.57 234.33L750.11 234.38L750.64 234.42L751.18 234.46L751.71 234.51L752.25 234.54L752.78 234.58L753.32 234.62L753.85 234.65L754.39 234.68L754.92 234.71L755.46 234.74L755.99 234.76L756.53 234.78L757.06 234.81L757.60 234.82L758.14 234.84L758.67 234.86L759.21 234.87L759.74 234.88L760.28 234.89L760.82 234.90L761.35 234.90L761.89 234.91L762.42 234.91L762.96 234.91L763.50 234.91L764.03 234.90L764.57 234.90L765.11 234.89L765.64 234.88L766.18 234.87L766.72 234.86L767.25 234.84L767.79 234.83L768.33 234.81L768.86 234.79L769.40 234.76L769.94 234.74L770.47 234.71L771.01 234.69L771.55 234.66L772.08 234.62L772.62 234.59L773.16 234.56L773.70 234.52L774.23 234.48L774.77 234.44L775.31 234.40L775.84 234.36L776.38 234.31L776.92 234.26L777.45 234.21L777.99 234.16L778.53 234.11L779.06 234.06L779.60 234.00" stroke="#0000ff" stroke-width="3.9"/>
<path d="M522.05 294.50L522.51 294.09L522.97 293.67L523.42 293.24L523.85 292.81L524.28 292.37L524.71 291.93L525.12 291.48L525.53 291.03L525.92 290.57L526.31 290.10L526.70 289.63L527.07 289.15L527.44 288.67L527.81 288.19L528.16 287.69L528.51 287.20L528.85 286.70L529.19 286.19L529.52 285.68L529.84 285.17L530.16 284.65L530.47 284.13L530.78 283.61L531.08 283.08L531.37 282.54L531.66 282.01L531.95 281.47L532.23 280.93L532.50 280.38L532.77 279.83L533.04 279.28L533.30 278.72L533.56 278.16L533.81 277.60L534.06 277.04L534.31 276.47L534.55 275.91L534.79 275.33L535.03 274.76L535.26 274.19L535.49 273.61L535.71 273.03L535.94 272.45L536.16 271.87L536.38 271.29L536.59 270.71L536.81 270.12L537.02 269.54L537.23 268.95L537.44 268.36L537.65 267.77L537.85 267.18L538.05 266.59L538.26 266.00L538.46 265.41L538.66 264.82L538.86 264.23L539.06 263.64L539.26 263.05L539.45 262.46L539.65 261.87L539.85 261.28L540.04 260.69L540.24 260.10L540.43 259.50L540.62 258.91L540.81 258.32L541.00 257.73L541.20 257.14L541.39 256.54L541.57 255.95L541.76 255.36L541.95 254.77L542.14 254.18L542.33 253.58L542.51 252.99L542.70 252.40L542.89 251.81L543.07 251.21L543.26 250.62L543.44 250.03L543.62 249.43L543.81 248.84L543.99 248.25L544.17 247.66L544.36 247.06L544.54 246.47L544.72 245.88L544.90 245.28L545.08 244.69L545.26 244.10L545.45 243.51L545.63 242.91L545.81 242.32L545.99 241.73L546.17 241.14L546.35 240.54L546.53 239.95L546.71 239.36L546.89 238.77L547.07 238.17L547.25 237.58L547.43 236.99L547.61 236.40L547.79 235.81L547.97 235.21L548.15 234.62L548.33 234.03L548.51 233.44L548.69 232.85L548.87 232.26L549.05 231.67L549.23 231.08L549.42 230.49L549.60 229.89L549.78 229.30L549.96 228.71L550.15 228.12L550.33 227.53L550.51 226.94L550.70 226.35L550.88 225.77L551.06 225.18L551.25 224.59L551.43 224.00L551.62 223.41L551.81 222.82L551.99 222.23L552.18 221.65L552.37 221.06L552.56 220.47L552.75 219.88L552.93 219.30L553.13 218.71L553.32 218.12L553.51 217.54L553.70 216.95L553.89 216.37L554.09 215.78L554.28 215.20L554.48 214.61L554.67 214.03L554.87 213.44L555.07 212.86L555.26 212.27L555.46 211.69L555.66 211.11L555.86 210.53L556.07 209.94L556.27 209.36L556.47 208.78L556.68 208.20L556.88 207.62L557.09 207.04L557.29 206.46L557.50 205.88L557.71 205.30L557.92 204.72L558.13 204.14L558.34 203.56L558.55 202.98L558.77 202.41L558.98 201.83L559.20 201.25L559.41 200.68L559.63 200.10L559.85 199.52L560.07 198.95L560.29 198.37L560.51 197.80L560.73 197.22L560.96 196.65L561.18 196.08L561.41 195.51L561.64 194.93L561.86 194.36L562.09 193.79L562.32 193.22L562.55 192.65L562.79 192.08L563.02 191.51L563.25 190.94L563.49 190.37L563.73 189.80L563.96 189.24L564.20 188.67L564.44 188.10L564.68 187.53L564.93 186.97L565.17 186.40L565.42 185.84L565.66 185.27L565.91 184.71L566.16 184.15L566.41 183.59L566.66 183.02L566.91 182.46L567.17 181.90L567.42 181.34L567.68 180.78L567.94 180.22L568.20 179.66L568.46 179.10L568.72 178.55L568.98 177.99L569.25 177.43L569.51 176.88L569.78 176.32L570.05 175.77L570.32 175.21L570.59 174.66L570.86 174.10L571.14 173.55L571.41 173.00L571.69 172.45L571.97 171.90L572.25 171.35L572.53 170.80L572.81 170.25L573.10 169.70L573.38 169.15L573.67 168.61L573.96 168.06L574.25 167.51L574.54 166.97L574.83 166.43L575.13 165.88L575.42 165.34L575.72 164.80L576.02 164.25L576.32 163.71L576.63 163.17L576.93 162.63L577.24 162.09L577.54 161.56L577.85 161.02L578.16 160.48L578.48 159.95L578.79 159.41L579.10 158.88L579.42 158.34L579.74 157.81L580.06 157.28L580.38 156.74L580.71 156.21L581.03 155.68L581.36 155.15L581.69 154.62L582.02 154.10L582.35 153.57L582.69 153.04L583.02 152.52L583.36 151.99L583.70 151.47L584.04 150.94L584.39 150.42L584.73 149.90L585.08 149.38L585.43 148.87L585.79 148.35L586.14 147.84L586.50 147.32L586.86 146.81L587.22 146.30L587.59 145.80L587.96 145.29L588.33 144.79L588.70 144.29L589.08 143.79L589.46 143.30L589.84 142.80L590.23 142.31L590.62 141.82L591.01 141.34L591.41 140.86L591.81 140.38L592.21 139.90L592.62 139.43L593.03 138.96L593.44 138.49L593.86 138.03L594.28 137.57L594.71 137.11L595.14 136.66L595.57 136.21L596.01 135.77L596.45 135.33L596.89 134.89L597.34 134.46L597.80 134.03L598.26 133.61L598.72 133.19L599.19 132.77L599.66 132.36L600.14 131.95L600.62 131.55L601.11 131.16L601.60 130.76L602.10 130.38L602.60 130.00L603.11 129.62L603.62 129.25L604.13 128.88L604.66 128.53L605.18 128.18L605.71 127.84L606.25 127.52L606.79 127.22L607.33 126.94L607.87 126.68L608.41 126.44L608.96 126.24L609.51 126.05L610.06 125.90L610.61 125.76L611.16 125.66L611.71 125.58L612.27 125.52L612.82 125.48L613.38 125.47L613.94 125.47L614.50 125.50L615.06 125.55L615.62 125.62L616.18 125.71L616.74 125.82L617.30 125.94L617.86 126.09L618.42 126.25L618.99 126.42L619.55 126.62L620.11 126.82L620.67 127.05L621.23 127.28L621.79 127.53L622.35 127.79L622.91 128.07L623.47 128.36L624.03 128.65L624.59 128.96L625.15 129.28L625.71 129.61L626.26 129.94L626.82 130.29L627.37 130.64L627.92 131.00L628.47 131.36L629.02 131.73L629.57 132.11L630.12 132.49L630.66 132.87L631.20 133.26L631.75 133.65L632.28 134.05L632.82 134.44L633.36 134.84L633.89 135.23L634.42 135.63L634.95 136.02L635.47 136.42L636.00 136.81L636.52 137.20L637.04 137.59L637.56 137.98L638.07 138.36L638.59 138.74L639.10 139.11L639.62 139.48L640.13 139.85L640.64 140.22L641.16 140.57L641.67 140.93L642.18 141.27L642.70 141.61L643.21 141.95L643.72 142.27L644.24 142.60L644.76 142.91L645.28 143.21L645.80 143.51L646.32 143.80L646.85 144.08L647.37 144.35L647.90 144.61L648.43 144.87L648.97 145.11L649.51 145.34L650.05 145.56L650.60 145.77L651.15 145.97L651.70 146.15L652.26 146.33L652.82 146.49L653.38 146.64L653.95 146.78L654.53 146.90L655.11 147.01L655.70 147.10L656.29 147.18L656.89 147.25L657.49 147.30L658.10 147.33L658.72 147.36L659.34 147.37L659.96 147.37L660.58 147.36L661.21 147.33L661.84 147.30L662.47 147.27L663.11 147.22L663.74 147.17L664.37 147.12L665.01 147.06L665.64 147.00L666.27 146.93L666.90 146.86L667.52 146.79L668.15 146.71L668.78 146.64L669.40 146.56L670.03 146.48L670.65 146.40L671.27 146.31L671.89 146.23L672.51 146.14L673.13 146.05L673.75 145.96L674.36 145.87L674.98 145.78L675.60 145.68L676.21 145.59L676.83 145.50L677.44 145.40L678.05 145.31L678.67 145.21L679.28 145.12L679.89 145.02L680.50 144.93L681.11 144.84L681.72 144.75L682.33 144.66L682.94 144.57L683.55 144.48L684.16 144.39L684.76 144.30L685.37 144.22L685.98 144.14L686.59 144.06L687.19 143.98L687.80 143.90L688.41 143.83L689.02 143.76L689.62 143.69L690.23 143.63L690.84 143.56L691.44 143.50L692.05 143.45L692.66 143.40L693.27 143.35L693.87 143.30L694.48 143.26L695.09 143.22L695.70 143.19L696.31 143.16L696.92 143.14L697.53 143.12L698.14 143.11L698.75 143.10L699.36 143.09L699.97 143.09L700.58 143.10L701.20 143.11L701.81 143.13L702.42 143.15L703.04 143.17L703.65 143.20L704.26 143.23L704.88 143.26L705.49 143.30L706.11 143.34L706.73 143.39L707.34 143.44L707.96 143.49L708.58 143.54L709.19 143.60L709.81 143.65L710.43 143.71L711.05 143.78L711.67 143.84L712.28 143.91L712.90 143.97L713.52 144.04L714.14 144.11L714.76 144.18L715.38 144.25L716.00 144.32L716.62 144.39L717.24 144.46L717.86 144.53L718.48 144.60L719.10 144.67L719.72 144.74L720.34 144.81L720.96 144.88L721.58 144.95L722.20 145.01L722.82 145.08L723.44 145.14L724.06 145.20L724.68 145.26L725.30 145.32L725.92 145.37L726.54 145.42L727.16 145.47L727.78 145.52L728.40 145.56L729.02 145.60L729.64 145.64L730.26 145.67L730.88 145.70L731.50 145.73L732.12 145.75L732.74 145.77L733.36 145.78L733.97 145.79L734.59 145.79L735.21 145.79L735.83 145.79L736.44 145.78L737.06 145.77L737.68 145.76L738.30 145.74L738.91 145.72L739.53 145.70L740.15 145.67L740.76 145.64L741.38 145.61L741.99 145.58L742.61 145.54L743.23 145.50L743.84 145.46L744.46 145.42L745.07 145.37L745.69 145.32L746.30 145.27L746.92 145.22L747.53 145.17L748.15 145.11L748.76 145.06L749.38 145.00L749.99 144.94L750.61 144.88L751.22 144.82L751.84 144.76L752.45 144.70L753.07 144.64L753.68 144.57L754.30 144.51L754.91 144.45L755.53 144.38L756.14 144.32L756.76 144.26L757.37 144.20L757.99 144.13L758.60 144.07L759.22 144.01L759.83 143.95L760.45 143.89L761.07 143.83L761.68 143.77L762.30 143.72L762.91 143.66L763.53 143.61L764.14 143.56L764.76 143.51L765.38 143.46L765.99 143.41L766.61 143.37L767.23 143.32L767.84 143.28L768.46 143.25L769.08 143.21L769.69 143.18L770.31 143.15L770.93 143.12L771.55 143.10L772.17 143.07L772.78 143.06L773.40 143.04L774.02 143.03L774.64 143.02L775.26 143.02L775.88 143.02L776.50 143.02L777.12 143.03L777.74 143.04L778.36 143.06L778.98 143.08L779.60 143.10" stroke="#000" stroke-width="3.9" stroke-dasharray="8.7 8" stroke-dashoffset="15.81"/>
<path d="M522.05 302.50L522.52 301.89L522.98 301.28L523.42 300.65L523.85 300.01L524.25 299.37L524.65 298.71L525.03 298.05L525.39 297.38L525.74 296.70L526.08 296.02L526.41 295.32L526.72 294.62L527.02 293.92L527.32 293.21L527.60 292.49L527.87 291.77L528.14 291.04L528.39 290.31L528.64 289.57L528.88 288.83L529.11 288.09L529.34 287.34L529.56 286.59L529.78 285.84L529.99 285.09L530.20 284.33L530.40 283.58L530.60 282.82L530.80 282.07L531.00 281.31L531.19 280.55L531.39 279.80L531.58 279.04L531.77 278.28L531.96 277.53L532.15 276.77L532.33 276.01L532.52 275.26L532.70 274.50L532.88 273.74L533.06 272.99L533.24 272.23L533.42 271.47L533.59 270.72L533.77 269.96L533.94 269.20L534.11 268.45L534.28 267.69L534.45 266.93L534.61 266.17L534.78 265.42L534.94 264.66L535.11 263.90L535.27 263.15L535.43 262.39L535.59 261.63L535.75 260.87L535.90 260.12L536.06 259.36L536.21 258.60L536.36 257.84L536.51 257.08L536.66 256.32L536.81 255.57L536.96 254.81L537.11 254.05L537.25 253.29L537.40 252.53L537.54 251.77L537.68 251.01L537.82 250.25L537.96 249.49L538.10 248.73L538.24 247.97L538.37 247.21L538.51 246.45L538.64 245.69L538.78 244.93L538.91 244.17L539.04 243.41L539.17 242.64L539.30 241.88L539.43 241.12L539.56 240.36L539.68 239.59L539.81 238.83L539.93 238.07L540.06 237.30L540.18 236.54L540.30 235.78L540.42 235.01L540.54 234.25L540.66 233.48L540.78 232.72L540.90 231.95L541.02 231.19L541.13 230.42L541.25 229.65L541.36 228.89L541.48 228.12L541.59 227.36L541.70 226.59L541.82 225.82L541.93 225.05L542.04 224.29L542.15 223.52L542.26 222.75L542.37 221.98L542.47 221.21L542.58 220.45L542.69 219.68L542.79 218.91L542.90 218.14L543.01 217.37L543.11 216.60L543.21 215.83L543.32 215.06L543.42 214.29L543.52 213.52L543.63 212.75L543.73 211.98L543.83 211.21L543.93 210.44L544.03 209.67L544.13 208.90L544.23 208.13L544.33 207.36L544.43 206.59L544.53 205.82L544.63 205.05L544.73 204.28L544.82 203.50L544.92 202.73L545.02 201.96L545.12 201.19L545.21 200.42L545.31 199.65L545.41 198.88L545.50 198.10L545.60 197.33L545.69 196.56L545.79 195.79L545.88 195.02L545.98 194.25L546.07 193.47L546.17 192.70L546.26 191.93L546.36 191.16L546.45 190.39L546.55 189.61L546.64 188.84L546.74 188.07L546.83 187.30L546.93 186.53L547.02 185.75L547.12 184.98L547.21 184.21L547.31 183.44L547.40 182.67L547.50 181.89L547.59 181.12L547.69 180.35L547.78 179.58L547.88 178.81L547.97 178.04L548.07 177.27L548.16 176.49L548.26 175.72L548.36 174.95L548.45 174.18L548.55 173.41L548.65 172.64L548.74 171.87L548.84 171.10L548.94 170.33L549.04 169.56L549.14 168.78L549.23 168.01L549.33 167.24L549.43 166.47L549.53 165.70L549.63 164.93L549.73 164.16L549.83 163.39L549.93 162.63L550.04 161.86L550.14 161.09L550.24 160.32L550.34 159.55L550.45 158.78L550.55 158.01L550.66 157.24L550.76 156.48L550.87 155.71L550.97 154.94L551.08 154.17L551.19 153.41L551.30 152.64L551.40 151.87L551.51 151.10L551.62 150.34L551.73 149.57L551.84 148.81L551.96 148.04L552.07 147.27L552.18 146.51L552.30 145.74L552.41 144.98L552.53 144.21L552.64 143.45L552.76 142.69L552.88 141.92L552.99 141.16L553.11 140.39L553.23 139.63L553.35 138.87L553.48 138.11L553.60 137.34L553.72 136.58L553.85 135.82L553.97 135.06L554.10 134.30L554.22 133.54L554.35 132.77L554.48 132.01L554.61 131.25L554.74 130.49L554.87 129.73L555.00 128.97L555.13 128.21L555.27 127.45L555.40 126.69L555.54 125.93L555.67 125.17L555.81 124.42L555.95 123.66L556.09 122.90L556.22 122.14L556.37 121.38L556.51 120.62L556.65 119.86L556.79 119.10L556.94 118.35L557.08 117.59L557.23 116.83L557.37 116.07L557.52 115.31L557.67 114.56L557.82 113.80L557.97 113.04L558.12 112.28L558.27 111.52L558.42 110.77L558.58 110.01L558.73 109.25L558.89 108.49L559.05 107.73L559.20 106.98L559.36 106.22L559.52 105.46L559.68 104.70L559.84 103.94L560.01 103.18L560.17 102.43L560.33 101.67L560.50 100.91L560.66 100.15L560.83 99.39L561.00 98.63L561.17 97.87L561.34 97.11L561.51 96.36L561.68 95.60L561.85 94.84L562.03 94.08L562.20 93.32L562.38 92.56L562.55 91.80L562.73 91.04L562.91 90.28L563.09 89.52L563.27 88.76L563.45 87.99L563.64 87.23L563.82 86.47L564.00 85.71L564.19 84.95L564.38 84.19L564.56 83.42L564.75 82.66L564.94 81.90L565.13 81.14L565.33 80.37L565.52 79.61L565.71 78.85L565.91 78.08L566.10 77.32L566.30 76.55L566.50 75.79L566.70 75.02L566.90 74.26L567.10 73.49L567.30 72.72L567.51 71.96L567.72 71.20L567.93 70.44L568.15 69.68L568.37 68.92L568.60 68.17L568.84 67.43L569.09 66.69L569.35 65.96L569.62 65.23L569.89 64.51L570.18 63.80L570.49 63.10L570.80 62.41L571.13 61.73L571.48 61.06L571.84 60.40L572.22 59.76L572.62 59.12L573.03 58.51L573.47 57.90L573.92 57.31L574.40 56.74L574.90 56.18L575.42 55.64L575.97 55.12L576.53 54.62L577.13 54.14L577.75 53.68L578.38 53.24L579.04 52.83L579.72 52.45L580.41 52.10L581.12 51.79L581.84 51.51L582.58 51.28L583.32 51.08L584.07 50.93L584.83 50.81L585.60 50.72L586.38 50.67L587.16 50.64L587.94 50.64L588.73 50.66L589.52 50.69L590.31 50.75L591.10 50.81L591.89 50.88L592.67 50.96L593.46 51.05L594.25 51.14L595.03 51.23L595.82 51.31L596.60 51.40L597.37 51.48L598.15 51.55L598.92 51.61L599.69 51.66L600.46 51.69L601.22 51.71L601.98 51.71L602.74 51.68L603.49 51.64L604.23 51.56L604.98 51.47L605.71 51.34L606.44 51.18L607.17 50.98L607.89 50.76L608.60 50.52L609.32 50.25L610.02 49.96L610.73 49.64L611.43 49.31L612.13 48.96L612.82 48.60L613.52 48.23L614.21 47.84L614.90 47.44L615.59 47.04L616.27 46.62L616.96 46.20L617.64 45.78L618.32 45.35L619.00 44.91L619.69 44.48L620.37 44.04L621.05 43.61L621.73 43.17L622.42 42.74L623.10 42.32L623.78 41.90L624.47 41.48L625.16 41.08L625.85 40.68L626.54 40.30L627.24 39.92L627.93 39.56L628.63 39.21L629.33 38.88L630.04 38.57L630.75 38.27L631.46 37.99L632.18 37.73L632.90 37.50L633.62 37.28L634.35 37.08L635.09 36.91L635.82 36.75L636.56 36.61L637.30 36.48L638.05 36.37L638.80 36.28L639.55 36.20L640.30 36.14L641.06 36.09L641.82 36.06L642.58 36.03L643.35 36.02L644.11 36.02L644.88 36.03L645.65 36.04L646.42 36.07L647.19 36.10L647.96 36.15L648.74 36.19L649.52 36.25L650.29 36.31L651.07 36.37L651.85 36.44L652.63 36.51L653.40 36.58L654.18 36.66L654.96 36.73L655.74 36.81L656.52 36.89L657.30 36.96L658.08 37.03L658.85 37.10L659.63 37.17L660.40 37.24L661.18 37.29L661.95 37.35L662.72 37.40L663.49 37.44L664.26 37.47L665.03 37.50L665.80 37.53L666.57 37.55L667.33 37.56L668.10 37.56L668.86 37.56L669.63 37.55L670.39 37.53L671.15 37.51L671.92 37.48L672.68 37.44L673.44 37.39L674.20 37.34L674.97 37.28L675.73 37.21L676.49 37.13L677.26 37.04L678.02 36.95L678.79 36.85L679.55 36.74L680.32 36.62L681.08 36.50L681.85 36.38L682.61 36.25L683.38 36.12L684.15 35.98L684.91 35.84L685.68 35.70L686.45 35.56L687.21 35.42L687.98 35.27L688.75 35.13L689.52 34.99L690.29 34.85L691.06 34.71L691.82 34.58L692.59 34.45L693.36 34.32L694.13 34.20L694.90 34.09L695.67 33.98L696.44 33.87L697.21 33.78L697.98 33.69L698.75 33.61L699.52 33.54L700.29 33.48L701.06 33.43L701.83 33.39L702.60 33.36L703.37 33.34L704.14 33.34L704.91 33.34L705.68 33.37L706.45 33.41L707.22 33.46L707.99 33.52L708.76 33.60L709.53 33.70L710.29 33.80L711.06 33.91L711.83 34.04L712.60 34.17L713.37 34.30L714.14 34.45L714.91 34.59L715.68 34.74L716.45 34.90L717.22 35.05L717.99 35.20L718.76 35.36L719.53 35.51L720.30 35.65L721.07 35.80L721.83 35.93L722.60 36.07L723.37 36.19L724.14 36.30L724.91 36.41L725.68 36.50L726.45 36.58L727.22 36.65L727.99 36.70L728.76 36.74L729.53 36.76L730.30 36.77L731.07 36.76L731.84 36.74L732.61 36.71L733.38 36.66L734.15 36.61L734.92 36.54L735.69 36.46L736.46 36.38L737.23 36.29L738.00 36.19L738.78 36.08L739.55 35.97L740.32 35.86L741.09 35.74L741.86 35.62L742.63 35.50L743.40 35.38L744.17 35.25L744.95 35.13L745.72 35.01L746.49 34.89L747.26 34.78L748.03 34.66L748.81 34.56L749.58 34.46L750.35 34.36L751.12 34.27L751.90 34.19L752.67 34.12L753.44 34.06L754.22 34.01L754.99 33.97L755.76 33.94L756.54 33.93L757.31 33.93L758.08 33.95L758.86 33.98L759.63 34.02L760.41 34.08L761.18 34.16L761.95 34.25L762.73 34.35L763.50 34.45L764.27 34.57L765.05 34.70L765.82 34.83L766.59 34.97L767.37 35.11L768.14 35.25L768.91 35.40L769.68 35.55L770.45 35.69L771.22 35.84L771.98 35.98L772.75 36.12L773.52 36.25L774.28 36.38L775.04 36.50L775.81 36.61L776.57 36.71L777.33 36.81L778.09 36.88L778.84 36.95L779.60 37.00" stroke="#00ff00" stroke-width="3.9" stroke-dasharray="14 7.9 0.5 7.6" stroke-dashoffset="28.64" stroke-linecap="round"/>
</g>
<rect x="522.05" y="12.00" width="257.55" height="307.90" fill="none" stroke="#000" stroke-width="3.95" stroke-linejoin="miter"/>
<g id="right-labels">
<text transform="translate(509.30 330.10) scale(1.000 1.055)" font-size="22.00" text-anchor="end" >0</text>
<text transform="translate(509.30 286.11) scale(1.000 1.055)" font-size="22.00" text-anchor="end" >0.5</text>
<text transform="translate(509.30 242.13) scale(1.000 1.055)" font-size="22.00" text-anchor="end" >1</text>
<text transform="translate(509.30 198.14) scale(1.000 1.055)" font-size="22.00" text-anchor="end" >1.5</text>
<text transform="translate(509.30 154.16) scale(1.000 1.055)" font-size="22.00" text-anchor="end" >2</text>
<text transform="translate(509.30 110.17) scale(1.000 1.055)" font-size="22.00" text-anchor="end" >2.5</text>
<text transform="translate(509.30 66.19) scale(1.000 1.055)" font-size="22.00" text-anchor="end" >3</text>
<text transform="translate(509.30 22.20) scale(1.000 1.055)" font-size="22.00" text-anchor="end" >3.5</text>
<text transform="translate(524.75 348.70) scale(1.000 1.055)" font-size="22.00" text-anchor="middle" >0</text>
<text transform="translate(561.54 348.70) scale(1.000 1.055)" font-size="22.00" text-anchor="middle" >1</text>
<text transform="translate(598.34 348.70) scale(1.000 1.055)" font-size="22.00" text-anchor="middle" >2</text>
<text transform="translate(635.13 348.70) scale(1.000 1.055)" font-size="22.00" text-anchor="middle" >3</text>
<text transform="translate(671.92 348.70) scale(1.000 1.055)" font-size="22.00" text-anchor="middle" >4</text>
<text transform="translate(708.71 348.70) scale(1.000 1.055)" font-size="22.00" text-anchor="middle" >5</text>
<text transform="translate(745.51 348.70) scale(1.000 1.055)" font-size="22.00" text-anchor="middle" >6</text>
<text transform="translate(782.30 348.70) scale(1.000 1.055)" font-size="22.00" text-anchor="middle" >7</text>
<text transform="translate(451.30 230.60) rotate(-90) scale(1.000 1.055)" font-size="22.00" text-anchor="start" >LDOS (arb. u.)</text>
</g>
<g id="right-legend">
<rect x="637.2" y="242.0" width="136.2" height="72.9" fill="none" stroke="#000" stroke-width="2.3"/>
<text transform="translate(640.3 261.10) scale(1.16 1.055)" font-size="23.60">&#969;</text>
<text transform="translate(656.20 263.80) scale(1.100 1.055)" font-size="22.20" text-anchor="start" >=</text>
<text transform="translate(669.40 262.00) scale(1.045 1.055)" font-size="22.20" text-anchor="start" >0.25</text>
<text transform="translate(640.3 285.60) scale(1.16 1.055)" font-size="23.60">&#969;</text>
<text transform="translate(658.00 288.30) scale(1.100 1.055)" font-size="22.20" text-anchor="start" >=</text>
<text transform="translate(671.60 286.50) scale(1.045 1.055)" font-size="22.20" text-anchor="start" >0.5</text>
<text transform="translate(640.3 310.20) scale(1.16 1.055)" font-size="23.60">&#969;</text>
<text transform="translate(658.00 312.90) scale(1.100 1.055)" font-size="22.20" text-anchor="start" >=</text>
<text transform="translate(671.60 311.10) scale(1.045 1.055)" font-size="22.20" text-anchor="start" >0.8</text>
<line x1="718.90" y1="251.80" x2="763.90" y2="251.80" stroke="#0000ff" stroke-width="3.90" />
<line x1="718.90" y1="276.10" x2="727.60" y2="276.10" stroke="#000" stroke-width="3.90" />
<line x1="735.60" y1="276.10" x2="744.10" y2="276.10" stroke="#000" stroke-width="3.90" />
<line x1="752.40" y1="276.10" x2="761.60" y2="276.10" stroke="#000" stroke-width="3.90" />
<line x1="719.20" y1="300.60" x2="732.90" y2="300.60" stroke="#00ff00" stroke-width="3.90" stroke-linecap="round"/>
<line x1="741.00" y1="300.60" x2="741.60" y2="300.60" stroke="#00ff00" stroke-width="3.90" stroke-linecap="round"/>
<line x1="749.10" y1="300.60" x2="763.50" y2="300.60" stroke="#00ff00" stroke-width="3.90" stroke-linecap="round"/>
</g>
</svg>
</body>
</html>
